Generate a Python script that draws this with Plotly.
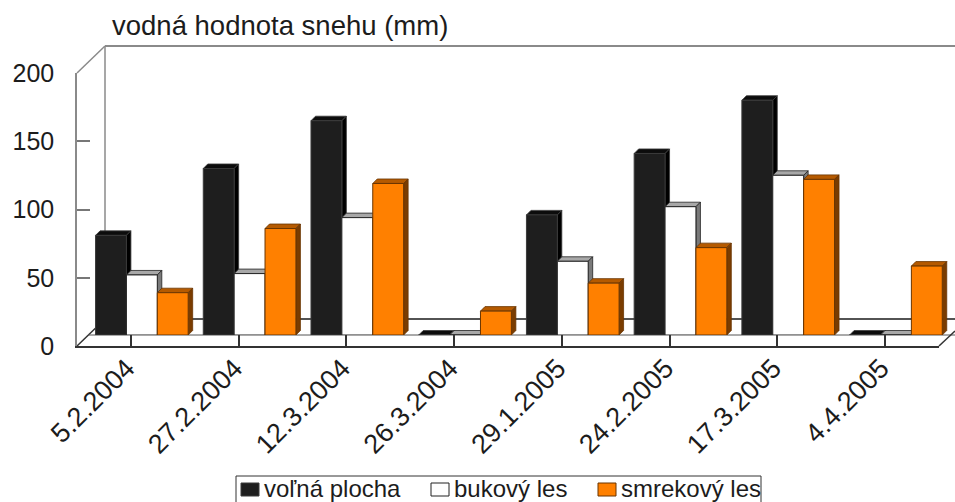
import plotly.graph_objects as go

# Snow water equivalent (mm) at three sites on eight survey dates
dates = ["5.2.2004", "27.2.2004", "12.3.2004", "26.3.2004",
         "29.1.2005", "24.2.2005", "17.3.2005", "4.4.2005"]
volna_plocha = [73, 122, 157, 0, 88, 133, 172, 0]
bukovy_les = [44, 45, 86, 0, 54, 94, 117, 0]
smrekovy_les = [31, 78, 111, 17.5, 38, 64, 114, 50.5]
y_ticks = [0, 50, 100, 150, 200]

series = [
    ("voľná plocha", volna_plocha, "#1e1e1e", "#3a3a3a", "#0c0c0c", "#000000"),
    ("bukový les", bukovy_les, "#ffffff", "#222222", "#a8a8a8", "#7a7a7a"),
    ("smrekový les", smrekovy_les, "#ff8000", "#6a3500", "#b55a00", "#7a3c00"),
]

W, H = 955, 502
FONT = "Liberation Sans, Arial, sans-serif"
TXT = "#1c1c1c"


def px(x):
    return x / W


def py(y):
    return 1 - y / H


# oblique projection: bar plane sits in front of the back wall
BAR_X0, BAR_X1 = 88.0, 949.8        # bar plane x extent (px)
BAR_Y0, BAR_Y200 = 335.0, 62.0      # bar plane y of 0 and 200 (px)
FR_X0, FR_X1 = 77.0, 939.0          # front plane x extent (px)
FR_Y0, FR_Y200 = 346.0, 73.0        # front plane y of 0 and 200 (px)
BARGAP = 0.14
DEPTH = 4.5                          # column depth in px

n = len(dates)
cat_px = (BAR_X1 - BAR_X0) / n
val_px = (BAR_Y0 - BAR_Y200) / 200.0
dx = DEPTH / cat_px
dy = DEPTH / val_px
w = (1 - BARGAP) / 3

fig = go.Figure()
shapes = []

for s, (name, vals, front, edge, top, side) in enumerate(series):
    xs = list(range(n))
    fig.add_trace(go.Bar(
        x=xs, y=vals, name=name, width=w, offset=(s - 1.5) * w,
        marker=dict(color=front, line=dict(color=edge, width=1)),
        showlegend=False,
    ))
    for i, v in enumerate(vals):
        xl = i + (s - 1.5) * w
        xr = xl + w
        shapes.append(dict(
            type="path", xref="x", yref="y", layer="below",
            path=f"M {xl},{v} L {xl+dx},{v+dy} L {xr+dx},{v+dy} L {xr},{v} Z",
            fillcolor=top, line=dict(color=edge, width=0.8)))
        shapes.append(dict(
            type="path", xref="x", yref="y", layer="below",
            path=f"M {xr},0 L {xr},{v} L {xr+dx},{v+dy} L {xr+dx},{dy} Z",
            fillcolor=side, line=dict(color=edge, width=0.8)))

# front plane axes (value labels and date labels)
fig.add_trace(go.Scatter(x=[], y=[], xaxis="x2", yaxis="y2",
                         showlegend=False, hoverinfo="skip"))


def line(x0, y0, x1, y1, color="#8a8a8a", width=2):
    return dict(type="line", xref="paper", yref="paper", layer="below",
                x0=px(x0), y0=py(y0), x1=px(x1), y1=py(y1),
                line=dict(color=color, width=width))


# walls and floor
shapes += [
    line(105, 46, 960, 46),
    line(105, 46, 105, 319, width=1.5),
    line(77, 73, 105, 46, width=1.5),
    line(77, 346, 105, 319, color="#333333", width=1.5),
    line(105, 319, 960, 319, color="#1a1a1a", width=1.5),
    line(88, 335, 960, 335, color="#555555", width=1),
    line(939, 346, 955, 331, color="#333333", width=1.5),
]

# legend box
LEG_Y0, LEG_Y1 = 476, 503
shapes.append(dict(type="rect", xref="paper", yref="paper",
                   x0=px(236), x1=px(761), y0=py(LEG_Y1), y1=py(LEG_Y0),
                   line=dict(color="#333333", width=1), fillcolor="rgba(0,0,0,0)"))
legend_items = [(241, 259, 262), (431, 449, 452), (598, 616, 619)]
annotations = []
for (sx0, sx1, tx), (name, _, front, edge, _, _) in zip(legend_items, series):
    shapes.append(dict(type="rect", xref="paper", yref="paper",
                       x0=px(sx0), x1=px(sx1), y0=py(496), y1=py(483),
                       fillcolor=front, line=dict(color=edge if front != "#ffffff" else "#222222", width=1)))
    annotations.append(dict(text=name, xref="paper", yref="paper",
                            x=px(tx), y=py(488), xanchor="left", yanchor="middle",
                            showarrow=False, font=dict(size=24, color=TXT, family=FONT)))

annotations.append(dict(text="vodná hodnota snehu (mm)", xref="paper", yref="paper",
                        x=px(110), y=py(26), xanchor="left", yanchor="middle",
                        showarrow=False, font=dict(size=27.5, color=TXT, family=FONT)))

fig.update_layout(
    width=W, height=H, autosize=False,
    margin=dict(l=0, r=0, t=0, b=0, pad=0, autoexpand=False),
    paper_bgcolor="white", plot_bgcolor="rgba(0,0,0,0)",
    barmode="overlay", showlegend=False,
    font=dict(family=FONT, color=TXT),
    xaxis=dict(domain=[px(BAR_X0), px(BAR_X1)], range=[-0.5, n - 0.5],
               visible=False, fixedrange=True, automargin=False),
    yaxis=dict(domain=[py(BAR_Y0), py(BAR_Y200)], range=[0, 200],
               visible=False, fixedrange=True, automargin=False),
    xaxis2=dict(domain=[px(FR_X0), px(FR_X1)], range=[-0.5, n - 0.5],
                anchor="y2", tickmode="array", tickvals=list(range(n)), ticktext=dates,
                tickangle=-45, ticks="inside", ticklen=11, tickwidth=1.5,
                tickcolor="#333333", showline=True, linecolor="#333333", linewidth=1.5,
                showgrid=False, zeroline=False, automargin=False,
                ticklabelstandoff=-6, ticklabelshift=-4,
                tickfont=dict(size=27, color=TXT)),
    yaxis2=dict(domain=[py(FR_Y0), py(FR_Y200)], range=[0, 200],
                anchor="x2", tickmode="array", tickvals=y_ticks,
                ticks="inside", ticklen=13, tickwidth=1.5, tickcolor="#777777",
                showline=True, linecolor="#8a8a8a", linewidth=1.5,
                showgrid=False, zeroline=False, ticklabelstandoff=16, automargin=False,
                tickfont=dict(size=25, color=TXT)),
    shapes=shapes,
    annotations=annotations,
)

fig.write_html("out.html")
